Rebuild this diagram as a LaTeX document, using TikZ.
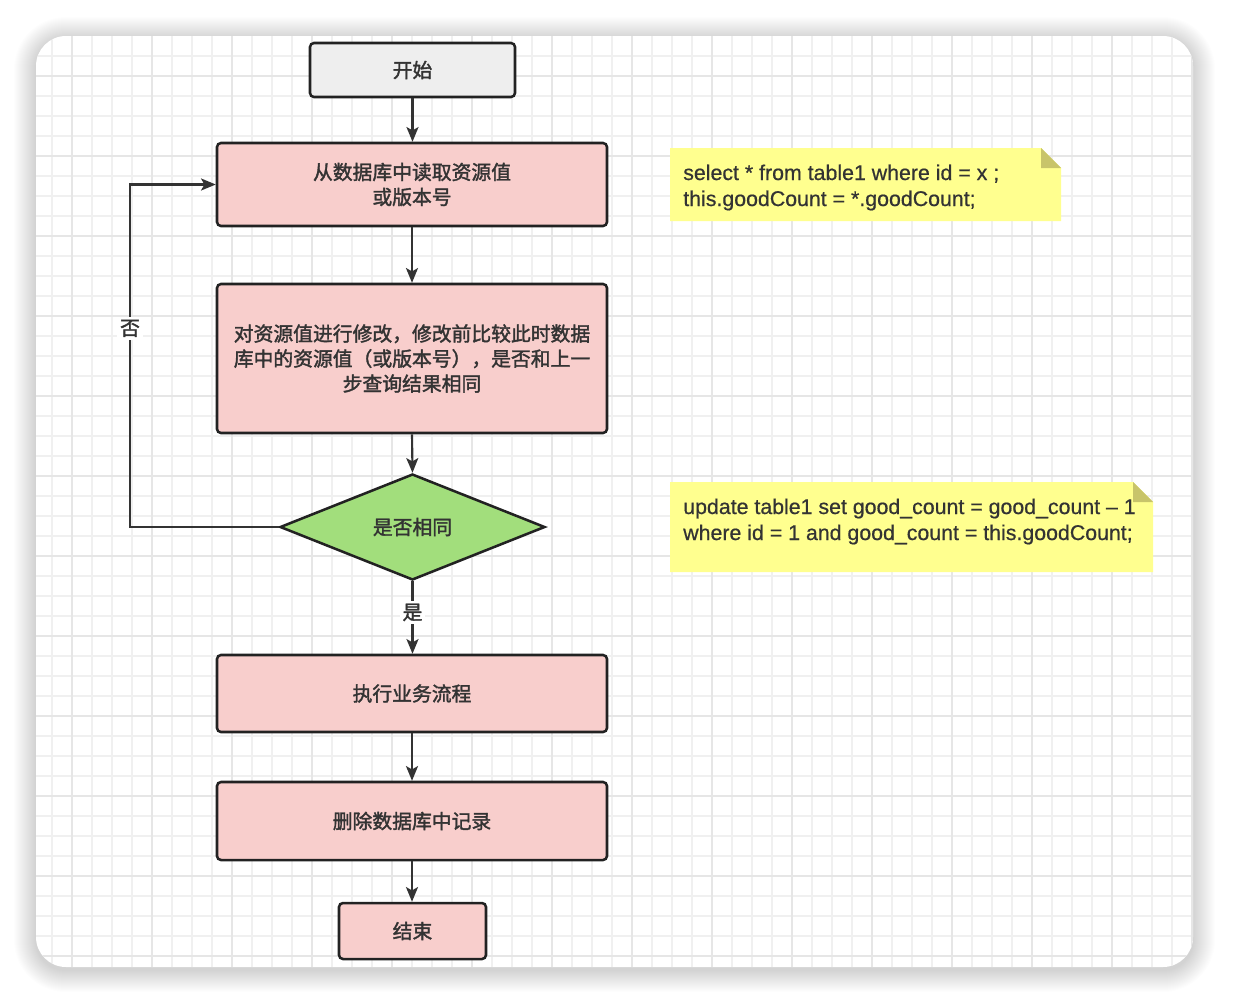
\documentclass[tikz,border=0pt]{standalone}
\usepackage{fontspec}
\setmainfont{Liberation Sans}
\newfontfamily\cjk{Noto Sans CJK SC}[FakeBold=1.8]
\newfontfamily\notefont{Liberation Sans}[FakeBold=0.6]
\usetikzlibrary{arrows.meta,shapes.geometric}
\definecolor{ink}{HTML}{333333}
\definecolor{edge}{HTML}{222222}
\definecolor{pinkfill}{HTML}{F8CECC}
\definecolor{startfill}{HTML}{EEEEEE}
\definecolor{greenfill}{HTML}{A2DE7C}
\definecolor{notefill}{HTML}{FFFF8F}
\definecolor{foldfill}{HTML}{C8C46A}
\definecolor{gridminor}{HTML}{F0F0F0}
\definecolor{gridmajor}{HTML}{E6E6E6}
\tikzset{
  cjktext/.style={font=\cjk\fontsize{14.85}{18.75}\selectfont, text=ink},
  flowbox/.style={cjktext, draw=edge, line width=1.9pt, fill=pinkfill, rounded corners=3pt,
    minimum width=292.5pt, inner sep=0pt, align=center},
  startbox/.style={flowbox, fill=startfill, minimum width=153.75pt, minimum height=40.5pt},
  decision/.style={cjktext, diamond, draw=edge, line width=1.9pt, fill=greenfill,
    minimum width=198.75pt, minimum height=79.5pt, inner sep=0pt, shape aspect=2.5},
  conn/.style={draw=ink, line width=1.6pt, -{Stealth[length=11pt,width=9pt,inset=2.5pt]}},
  edgelabel/.style={cjktext, fill=white, inner sep=2pt},
  notetext/.style={font=\notefont\fontsize{16}{19.5}\selectfont, text=ink, align=left, inner sep=0pt}
}
\begin{document}
\begin{tikzpicture}[x=0.75pt,y=-0.75pt]
\useasboundingbox (0,0) rectangle (1234,1004);
\fill[white] (0,0) rectangle (1234,1004);
% shadow
\foreach \i in {1,...,22}{
  \pgfmathsetmacro\rr{(30+\i)*0.75}
  \fill[black,opacity=0.008,rounded corners=\rr pt] (36-\i,36-\i+3) rectangle (1193+\i,967+\i+3);
}
% card
\fill[white, rounded corners=22.5pt] (36,36) rectangle (1193,967);
\begin{scope}
  \clip[rounded corners=22.5pt] (36,36) rectangle (1193,967);
  \foreach \x in {52,72,...,1192} \draw[gridminor, line width=1.1pt] (\x,36) -- (\x,967);
  \foreach \y in {56,76,...,966} \draw[gridminor, line width=1.1pt] (36,\y) -- (1193,\y);
  \foreach \x in {72,152,...,1192} \draw[gridmajor, line width=1.1pt] (\x,36) -- (\x,967);
  \foreach \y in {76,156,...,966} \draw[gridmajor, line width=1.1pt] (36,\y) -- (1193,\y);
\end{scope}

% notes
\fill[notefill] (670,148) -- (1041,148) -- (1061,168) -- (1061,221) -- (670,221) -- cycle;
\fill[foldfill] (1041,148) -- (1061,168) -- (1041,168) -- cycle;
\node[notetext, anchor=west] (note1) at (683,187.5) {select * from table1 where id = x ;\\this.goodCount = *.goodCount;};

\fill[notefill] (670,482) -- (1133,482) -- (1153,502) -- (1153,572) -- (670,572) -- cycle;
\fill[foldfill] (1133,482) -- (1153,502) -- (1133,502) -- cycle;
\node[notetext, anchor=west] (note2) at (683,521.5) {update table1 set good\_count = good\_count – 1\\where id = 1 and good\_count = this.goodCount;};

% flow
\node[startbox] (start) at (412.5,70) {开始};
\node[flowbox, minimum height=62.25pt] (read) at (412,184.5) {从数据库中读取资源值\\或版本号};
\node[flowbox, minimum height=111.75pt] (modify) at (412,358.5) {对资源值进行修改，修改前比较此时数据\\库中的资源值（或版本号），是否和上一\\步查询结果相同};
\node[decision] (same) at (412.5,527) {是否相同};
\node[flowbox, minimum height=57.75pt] (biz) at (412,693.5) {执行业务流程};
\node[flowbox, minimum height=58.5pt] (del) at (412,821) {删除数据库中记录};
\node[flowbox, minimum width=110.25pt, minimum height=42pt] (end) at (412.5,931) {结束};

\coordinate (loopc) at (130,527);
\draw[conn] (start) -- (start.south |- read.north);
\draw[conn] (read) -- (read.south |- modify.north);
\draw[conn] (modify.south) -- (same.north);
\draw[conn] (same.south) -- node[edgelabel, pos=0.43] {是} (same.south |- biz.north);
\draw[conn] (biz) -- (del);
\draw[conn] (del.south) -- (del.south |- end.north);
\draw[conn] (same.west) -- (loopc) |- node[edgelabel, pos=0.29] {否} (read.west);
\end{tikzpicture}
\end{document}
